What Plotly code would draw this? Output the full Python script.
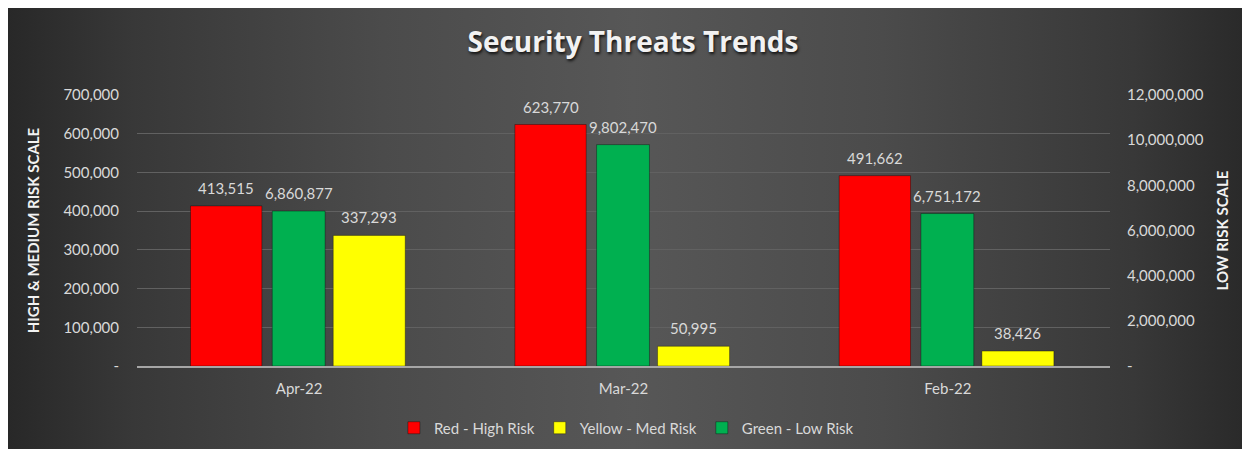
import base64
import plotly.graph_objects as go

# ---- data ----
months = ["Apr-22", "Mar-22", "Feb-22"]
red_high = [413515, 623770, 491662]
yellow_med = [337293, 50995, 38426]
green_low = [6860877, 9802470, 6751172]

left_ticks = [0, 100000, 200000, 300000, 400000, 500000, 600000, 700000]
left_labels = ["-", "100,000", "200,000", "300,000", "400,000", "500,000", "600,000", "700,000"]
right_ticks = [0, 2000000, 4000000, 6000000, 8000000, 10000000, 12000000]
right_labels = ["-", "2,000,000", "4,000,000", "6,000,000", "8,000,000", "10,000,000", "12,000,000"]

FONT = "Lato"
LBL = "#d9d9d9"

W, H = 1250, 449
L, R, T, B = 129, 148, 87, 91
pw, ph = W - L - R, H - T - B

# background gradient (decoration)
svg = (
    f'<svg xmlns="http://www.w3.org/2000/svg" width="{W}" height="{H}" viewBox="0 0 {W} {H}" '
    'preserveAspectRatio="none"><defs><linearGradient id="g" x1="0" y1="0" x2="1" y2="0">'
    '<stop offset="0" stop-color="#282828"/><stop offset="0.1" stop-color="#383838"/>'
    '<stop offset="0.3" stop-color="#4b4b4b"/><stop offset="0.5" stop-color="#575757"/>'
    '<stop offset="0.7" stop-color="#4b4b4b"/><stop offset="0.9" stop-color="#383838"/>'
    '<stop offset="1" stop-color="#282828"/></linearGradient></defs>'
    f'<rect width="{W}" height="{H}" fill="url(#g)"/></svg>'
)
bg_src = "data:image/svg+xml;base64," + base64.b64encode(svg.encode()).decode()

edge = dict(color="rgba(0,0,0,0.35)", width=1)
txtfont = dict(family=FONT, size=15, color=LBL)

series = [
    # name, values, color, offset, width, axis, rank
    ("Red - High Risk", red_high, "#ff0000", -0.335, 0.22, "y", 1),
    ("Yellow - Med Risk", yellow_med, "#ffff00", 0.105, 0.222, "y", 2),
    ("Green - Low Risk", green_low, "#00b050", -0.083, 0.163, "y2", 3),
]

fig = go.Figure()
annotations = []
for name, vals, col, off, wid, ax, rank in series:
    fig.add_trace(go.Bar(
        x=months, y=vals, name=name, marker=dict(color=col, line=edge),
        offset=off, width=wid, legendrank=rank, yaxis=ax, hoverinfo="x+y+name"))
    for i, v in enumerate(vals):
        annotations.append(dict(
            x=i + off + wid / 2, y=v, xref="x", yref=ax, text=f"{v:,}",
            showarrow=False, yanchor="bottom", yshift=7, font=txtfont))

fig.update_layout(
    width=W, height=H,
    margin=dict(l=L, r=R, t=T, b=B),
    paper_bgcolor="#3a3a3a",
    plot_bgcolor="rgba(0,0,0,0)",
    barmode="overlay",
    font=dict(family=FONT, size=15, color=LBL),
    title=dict(text="<b>Security Threats Trends</b>", x=0.5, xanchor="center",
               y=1 - 34 / H, yanchor="middle", yref="container",
               font=dict(family="Open Sans", size=28, color="#f2f2f2",
                         shadow="1px 2px 3px rgba(0,0,0,0.8)")),
    images=[dict(source=bg_src, xref="paper", yref="paper",
                 x=-L / pw, y=(H - B) / ph,
                 sizex=W / pw, sizey=H / ph,
                 xanchor="left", yanchor="top", sizing="stretch", layer="below")],
    annotations=annotations,
    xaxis=dict(type="category", showline=True, linecolor="#a6a6a6", linewidth=1.5,
               showgrid=False, ticks="", ticklabelstandoff=8,
               tickfont=dict(family=FONT, size=15, color=LBL), fixedrange=True),
    yaxis=dict(range=[0, 700000], tickvals=left_ticks, ticktext=left_labels,
               showgrid=True, gridcolor="#616161", gridwidth=1, zeroline=False,
               ticks="", ticklabelstandoff=17,
               tickfont=dict(family=FONT, size=15, color=LBL),
               title=dict(text="<b>HIGH &amp; MEDIUM RISK SCALE</b>", standoff=20,
                          font=dict(family=FONT, size=15, color="#f2f2f2"))),
    yaxis2=dict(range=[0, 12000000], tickvals=right_ticks, ticktext=right_labels,
                overlaying="y", side="right", showgrid=False, zeroline=False,
                ticks="", ticklabelstandoff=16,
                tickfont=dict(family=FONT, size=15, color=LBL),
                title=dict(text="<b>LOW RISK SCALE</b>", standoff=14,
                           font=dict(family=FONT, size=15, color="#f2f2f2"))),
    legend=dict(orientation="h", x=0.503, xanchor="center", y=(H - B - 420) / ph,
                yanchor="middle", bgcolor="rgba(0,0,0,0)",
                font=dict(family=FONT, size=15, color=LBL), traceorder="normal"),
    showlegend=True,
)

fig.write_html("out.html")
